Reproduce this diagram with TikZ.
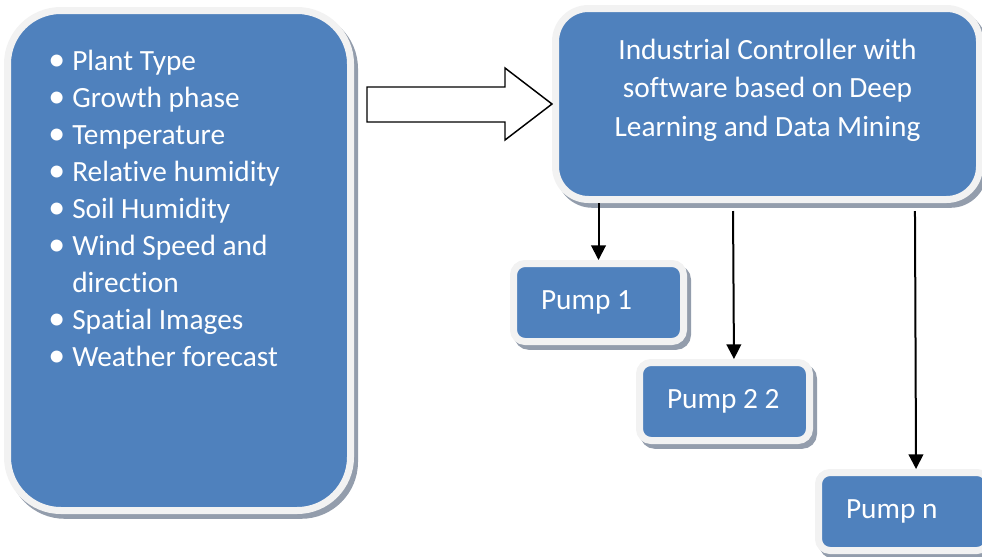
\documentclass[tikz,border=0pt]{standalone}
\usepackage{fontspec}
\setmainfont{Carlito}[Ligatures=CommonOff]
\usetikzlibrary{arrows.meta}
\definecolor{boxblue}{HTML}{4F81BD}
\definecolor{boxrim}{HTML}{F2F2F2}
\definecolor{boxshade}{HTML}{939DAC}
% body text size
\newcommand{\panelfont}[1]{\fontsize{22pt}{#1}\selectfont}
% natural interword space (the align keys would otherwise widen it)
\newcommand{\natspace}{\spaceskip=0.226em\relax\xspaceskip=0.226em\relax}
\newcommand{\bulletline}[1]{\makebox[18pt][l]{\raisebox{-0.3pt}{\scalebox{1.15}{•}}}#1}
\begin{document}
\begin{tikzpicture}[x=0.75pt,y=-0.75pt,
  panel/.style={draw=boxrim, fill=boxblue, line width=5.25pt, inner sep=0pt,
    text=white, font=\panelfont{27.8pt},
    preaction={draw=boxshade, fill=boxshade, transform canvas={xshift=3pt,yshift=-3.6pt}}},
  bigpanel/.style={panel, rounded corners=40pt, minimum width=257.25pt, minimum height=375pt},
  ctrlpanel/.style={panel, rounded corners=24.75pt, minimum width=318pt, minimum height=143.25pt},
  pumppanel/.style={panel, rounded corners=8.6pt, minimum width=127.5pt, minimum height=58.5pt,
    text width=86.25pt, align=left},
  boxtext/.style={inner sep=0pt, text=white},
  conn/.style={line width=1.5pt, -{Triangle[length=11pt,width=11pt]}},
  blockarrow/.style={draw=black, fill=white, line width=1.1pt}
]
\useasboundingbox (0,0) rectangle (982,557);
\clip (0,0) rectangle (982,557);

% input panel with the list of measured quantities
\node[bigpanel] (inputs) at (179,260.5) {};
\node[boxtext, anchor=base west, text width=225pt, align=left,
      font=\panelfont{27.8pt}] (inputlist) at (48,70)
  {\natspace\bulletline{Plant Type}\\
   \bulletline{Growth phase}\\
   \bulletline{Temperature}\\
   \bulletline{Relative humidity}\\
   \bulletline{Soil Humidity}\\
   \bulletline{Wind Speed and}\\
   \hspace*{18pt}direction\\
   \bulletline{Spatial Images}\\
   \bulletline{Weather forecast}};

% controller
\node[ctrlpanel] (ctrl) at (767.5,104) {};
\node[boxtext, anchor=base, text width=300pt, align=center,
      font=\panelfont{28.9pt}] (ctrltext) at (767.5,59)
  {\natspace Industrial Controller with\\ software based on Deep\\ Learning and Data Mining};

% block arrow from the inputs to the controller
\draw[blockarrow] (367,87) -- (505,87) -- (505,68) -- (552,104) -- (505,140) -- (505,122) -- (367,122) -- cycle;

% pumps
\node[pumppanel] (p1) at (598.5,302.5) {\natspace Pump~1};
\node[pumppanel] (p2) at (724.5,401.5) {\natspace Pump~2~2};
\node[pumppanel] (pn) at (903.5,511.5) {\natspace Pump~n};

% control lines
\draw[conn] (ctrl.south -| p1.north) -- (p1.north);
\draw[conn] ([xshift=6.4pt,yshift=-6pt]ctrl.south -| p2.north) -- ([xshift=7.1pt]p2.north);
\draw[conn] ([xshift=8.6pt,yshift=-6pt]ctrl.south -| pn.north) -- ([xshift=9.4pt]pn.north);
\end{tikzpicture}
\end{document}
